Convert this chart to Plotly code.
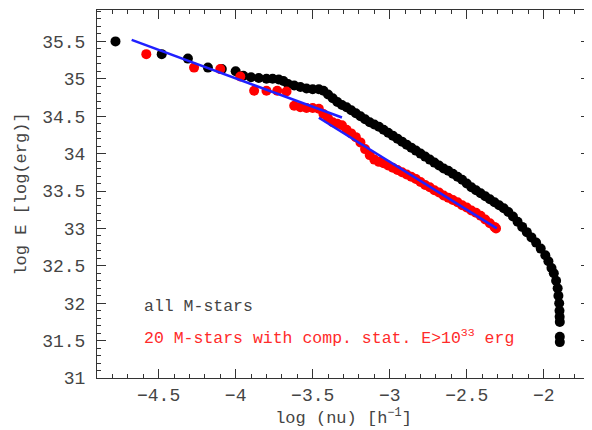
import plotly.graph_objects as go

# all M-stars (black)
all_x = [-4.78, -4.48, -4.31, -4.18, -4.09, -4.00, -3.95, -3.90, -3.85, -3.80,
         -3.76, -3.72, -3.69, -3.66, -3.62, -3.58, -3.54, -3.50, -3.46, -3.43,
         -3.40, -3.37, -3.34, -3.31, -3.28, -3.25, -3.22, -3.19, -3.16, -3.13,
         -3.10, -3.07, -3.04, -3.01, -2.98, -2.95, -2.92, -2.89, -2.86, -2.83,
         -2.80, -2.77, -2.74, -2.71, -2.68, -2.65, -2.62, -2.59, -2.56, -2.53,
         -2.50, -2.47, -2.44, -2.41, -2.38, -2.35, -2.32, -2.29, -2.26, -2.23,
         -2.20, -2.17, -2.14, -2.11, -2.08, -2.05, -2.02, -1.99, -1.97, -1.95,
         -1.935, -1.92, -1.91, -1.905, -1.90, -1.898, -1.897, -1.896, -1.896, -1.896]
all_y = [35.50, 35.33, 35.27, 35.15, 35.13, 35.10, 35.04, 35.02, 35.01, 35.00,
         35.00, 34.99, 34.97, 34.93, 34.91, 34.89, 34.87, 34.86, 34.86, 34.84,
         34.79, 34.74, 34.69, 34.65, 34.62, 34.58, 34.54, 34.50, 34.46, 34.42,
         34.39, 34.36, 34.32, 34.28, 34.24, 34.20, 34.16, 34.12, 34.08, 34.04,
         34.00, 33.96, 33.92, 33.88, 33.84, 33.80, 33.77, 33.73, 33.69, 33.65,
         33.60, 33.55, 33.51, 33.47, 33.43, 33.39, 33.35, 33.31, 33.27, 33.22,
         33.16, 33.09, 33.02, 32.95, 32.88, 32.81, 32.73, 32.64, 32.56, 32.47,
         32.40, 32.30, 32.20, 32.10, 32.00, 31.90, 31.82, 31.75, 31.55, 31.48]

# 20 M-stars with complete statistics (red)
sel_x = [-4.58, -4.27, -4.10, -3.97, -3.88, -3.80, -3.73, -3.67, -3.62, -3.58,
         -3.54, -3.50, -3.46, -3.43, -3.40, -3.37, -3.34, -3.31, -3.28, -3.25,
         -3.22, -3.19, -3.16, -3.13, -3.10, -3.07, -3.04, -3.01, -2.98, -2.95,
         -2.92, -2.89, -2.86, -2.83, -2.80, -2.77, -2.74, -2.71, -2.68, -2.65,
         -2.62, -2.59, -2.56, -2.53, -2.50, -2.47, -2.44, -2.41, -2.38, -2.35,
         -2.32, -2.31]
sel_y = [35.33, 35.15, 35.13, 35.03, 34.84, 34.84, 34.84, 34.83, 34.64, 34.62,
         34.61, 34.61, 34.60, 34.53, 34.47, 34.42, 34.40, 34.38, 34.32, 34.27,
         34.22, 34.15, 34.06, 33.98, 33.92, 33.89, 33.87, 33.84, 33.81, 33.78,
         33.75, 33.72, 33.69, 33.66, 33.62, 33.58, 33.55, 33.51, 33.48, 33.44,
         33.41, 33.38, 33.35, 33.31, 33.28, 33.24, 33.21, 33.17, 33.12, 33.07,
         33.02, 33.00]

# power-law fits: y = intercept + slope * x over [x_start, x_end]
fit_intercepts = [31.967, 30.05]
fit_slopes = [-0.76, -1.28]
fit_x_start = [-4.675, -3.46]
fit_x_end = [-3.31, -2.305]

FONT = "Liberation Mono"
TXT = "#444444"

fig = go.Figure()
fig.add_trace(go.Scatter(x=all_x, y=all_y, mode="markers",
                         marker=dict(color="black", size=10, line=dict(width=0)),
                         showlegend=False))
fig.add_trace(go.Scatter(x=sel_x, y=sel_y, mode="markers",
                         marker=dict(color="#ff0000", size=10, line=dict(width=0)),
                         showlegend=False))
for a, b, x0, x1 in zip(fit_intercepts, fit_slopes, fit_x_start, fit_x_end):
    fig.add_trace(go.Scatter(x=[x0, x1], y=[a + b * x0, a + b * x1], mode="lines",
                             line=dict(color="#2020ff", width=2.5),
                             showlegend=False))

fig.add_annotation(x=-4.605, y=31.95, xref="x", yref="y", text="all M-stars",
                   showarrow=False, xanchor="left", yanchor="middle",
                   font=dict(family=FONT, size=16.5, color=TXT))
fig.add_annotation(x=-4.605, y=31.55, xref="x", yref="y",
                   text="20 M-stars with comp. stat. E>10<sup>33</sup> erg",
                   showarrow=False, xanchor="left", yanchor="middle",
                   font=dict(family=FONT, size=16.5, color="#ff2a2a"))

axis_common = dict(showgrid=False, zeroline=False, showline=True,
                   linecolor="#333333", linewidth=1, mirror="ticks",
                   ticks="inside", ticklen=9, tickcolor="#333333", tickwidth=1,
                   automargin=False,
                   tickfont=dict(family=FONT, size=18, color=TXT),
                   minor=dict(ticks="inside", ticklen=4, tickcolor="#333333",
                              dtick=0.1, showgrid=False))

fig.update_xaxes(range=[-4.9, -1.7], tick0=-4.5, dtick=0.5,
                 title=dict(text="log (nu) [h<sup>\u22121</sup>]", standoff=2,
                            font=dict(family=FONT, size=17, color=TXT)),
                 **axis_common)
fig.update_yaxes(range=[31, 35.92], tick0=31, dtick=0.5, ticklabelstandoff=7,
                 title=dict(text="log E [log(erg)]", standoff=11,
                            font=dict(family=FONT, size=17, color=TXT)),
                 **axis_common)

# the page body adds an 8px margin, so the figure is sized to fill the rest
fig.update_layout(width=584, height=422, margin=dict(l=89, r=2, t=2, b=52),
                  plot_bgcolor="white", paper_bgcolor="white",
                  font=dict(family=FONT, color=TXT))

fig.write_html("out.html")
